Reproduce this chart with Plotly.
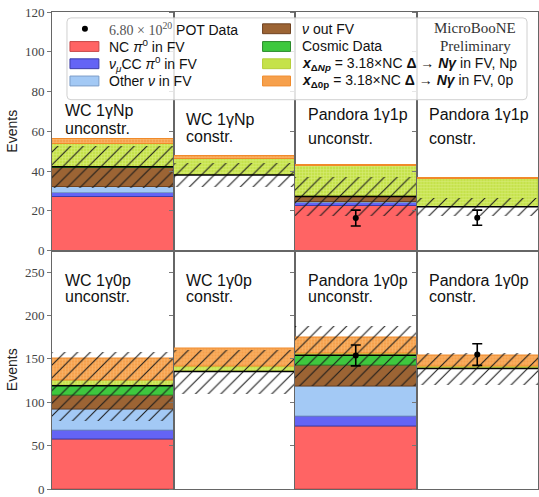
import numpy as np
import plotly.graph_objects as go
from plotly.subplots import make_subplots

# ---------------- data ----------------
panel_line1 = ["WC 1γNp", "WC 1γNp", "Pandora 1γ1p", "Pandora 1γ1p",
               "WC 1γ0p", "WC 1γ0p", "Pandora 1γ0p", "Pandora 1γ0p"]
panel_line2 = ["unconstr.", "constr.", "unconstr.", "constr.",
               "unconstr.", "constr.", "unconstr.", "constr."]

# background components (unconstrained panels only)
nc_pi0      = [27.0, 0, 22.5, 0, 57.5, 0, 72.0, 0]
numu_cc_pi0 = [1.8, 0, 1.5, 0, 10.5, 0, 11.3, 0]
other_nu    = [3.2, 0, 0.5, 0, 23.6, 0, 35.0, 0]
nu_out_fv   = [9.3, 0, 2.2, 0, 16.0, 0, 24.5, 0]
cosmic      = [0.9, 0, 0.5, 0, 11.4, 0, 11.3, 0]

# constrained background totals (constrained panels)
constr_bkg = [None, 38.0, None, 22.0, None, 135.6, None, 139.0]
# background uncertainty (half-width of hatched band)
bkg_err = [10.5, 6.0, 10.0, 4.5, 40.0, 25.0, 35.0, 18.0]

# signal: x_Delta = 3.18 x NC Delta -> N gamma
delta_np = [11.3, 8.0, 15.2, 14.2, 6.5, 5.4, 2.0, 2.5]
delta_0p = [2.8, 1.5, 0.6, 0.5, 24.8, 21.5, 19.0, 12.5]

# data (Pandora panels only)
data_val = [None, None, 16.3, 16.5, None, None, 154.0, 155.0]
data_err = [None, None, 4.0, 3.8, None, None, 12.0, 12.5]

row_ranges = [[0, 120], [0, 275]]
row_ticks = [[0, 20, 40, 60, 80, 100, 120], [0, 50, 100, 150, 200, 250]]

# ---------------- styling ----------------
W, H = 539, 497
ML, MR, MT, MB = 52, 0, 12, 1
PW, PH = W - ML - MR, H - MT - MB

def px_x(px):
    return (px - ML) / PW

def px_y(py):
    return (H - MB - py) / PH

bkg_styles = [
    ("NC π⁰ in FV", nc_pi0, "#ff6464", "#c84848"),
    ("νμCC π⁰ in FV", numu_cc_pi0, "#6464f5", "#3c3ca8"),
    ("Other ν in FV", other_nu, "#a3c9f5", "#7a9cc8"),
    ("ν out FV", nu_out_fv, "#9c6434", "#6e4220"),
    ("Cosmic Data", cosmic, "#3ec83e", "#2a8a2a"),
]
sig_styles = [
    ("ΔNp", delta_np, "#c5e24a", "#e9f6a2", "#b5cf3a"),
    ("Δ0p", delta_0p, "#f6a04c", "#fccb8e", "#f08a2a"),
]

fig = make_subplots(rows=2, cols=4, horizontal_spacing=0, vertical_spacing=0)

for i in range(8):
    r, c = i // 4 + 1, i % 4 + 1
    base = 0.0
    for name, arr, col, edge in bkg_styles:
        v = arr[i]
        if v > 0:
            fig.add_trace(go.Bar(x=[0.5], y=[v], base=[base], width=1.0,
                                 marker=dict(color=col, line=dict(color=edge, width=1)),
                                 showlegend=False, hoverinfo="skip"), row=r, col=c)
        base += v
    cval = constr_bkg[i] if constr_bkg[i] is not None else base
    sbase = cval
    for name, arr, col, fg, edge in sig_styles:
        v = arr[i]
        fig.add_trace(go.Bar(x=[0.5], y=[v], base=[sbase], width=1.0,
                             marker=dict(color=col, line=dict(color=edge, width=1),
                                         pattern=dict(shape="+", fgcolor=fg, size=3,
                                                      solidity=0.35, fillmode="overlay")),
                             showlegend=False, hoverinfo="skip"), row=r, col=c)
        sbase += v
    # hatched uncertainty band
    e = bkg_err[i]
    fig.add_trace(go.Bar(x=[0.5], y=[2 * e], base=[cval - e], width=1.0,
                         marker=dict(color="rgba(0,0,0,0)", line=dict(width=0),
                                     pattern=dict(shape="/", fgcolor="#1a1a1a", bgcolor="rgba(0,0,0,0)",
                                                  size=9, solidity=0.12, fillmode="replace")),
                         showlegend=False, hoverinfo="skip"), row=r, col=c)
    # central background line
    fig.add_trace(go.Scatter(x=[0, 1], y=[cval, cval], mode="lines",
                             line=dict(color="black", width=1.5),
                             showlegend=False, hoverinfo="skip"), row=r, col=c)
    if data_val[i] is not None:
        fig.add_trace(go.Scatter(x=[0.5], y=[data_val[i]], mode="markers",
                                 marker=dict(color="black", size=6),
                                 error_y=dict(type="data", array=[data_err[i]], color="black",
                                              thickness=1.6, width=5),
                                 showlegend=False, hoverinfo="skip"), row=r, col=c)

    fig.update_xaxes(range=[0, 1], showticklabels=False, ticks="", showgrid=False,
                     zeroline=False, showline=True, mirror=True, linecolor="#666", linewidth=1,
                     row=r, col=c)
    fig.update_yaxes(range=row_ranges[r - 1], tickvals=row_ticks[r - 1],
                     showticklabels=(c == 1), ticks="outside", ticklen=4, tickcolor="#777",
                     showgrid=False, zeroline=False, showline=True, mirror=True,
                     linecolor="#666", linewidth=1,
                     tickfont=dict(family="Liberation Serif", size=13, color="#444"),
                     row=r, col=c)

for rr in (1, 2):
    fig.update_yaxes(title_text="Events",
                     title_font=dict(family="Liberation Sans", size=14, color="#222"),
                     title_standoff=4, row=rr, col=1)

annotations = []
shapes = []
# panel labels (pixel centre y of each line)
label_y = [(112, 130), (121, 138), (116, 140), (116, 140),
           (284, 301), (284, 301), (284, 301), (284, 301)]
panel_left = [52 + k * PW / 4 for k in range(4)]
for i in range(8):
    xl = panel_left[i % 4] + 11
    for txt, yy in zip((panel_line1[i], panel_line2[i]), label_y[i]):
        annotations.append(dict(x=px_x(xl), y=px_y(yy), xref="paper", yref="paper",
                                text=txt, showarrow=False, xanchor="left", yanchor="middle",
                                font=dict(family="Liberation Sans", size=16, color="#111")))

# legend box with rounded corners
def rounded_rect(x0, y0, x1, y1, rad):
    X = lambda p: px_x(p)
    Y = lambda p: px_y(p)
    return (f"M {X(x0+rad)},{Y(y0)} L {X(x1-rad)},{Y(y0)} Q {X(x1)},{Y(y0)} {X(x1)},{Y(y0+rad)} "
            f"L {X(x1)},{Y(y1-rad)} Q {X(x1)},{Y(y1)} {X(x1-rad)},{Y(y1)} "
            f"L {X(x0+rad)},{Y(y1)} Q {X(x0)},{Y(y1)} {X(x0)},{Y(y1-rad)} "
            f"L {X(x0)},{Y(y0+rad)} Q {X(x0)},{Y(y0)} {X(x0+rad)},{Y(y0)} Z")

shapes.append(dict(type="path", xref="paper", yref="paper", layer="above",
                   path=rounded_rect(67, 18, 528, 101, 4),
                   fillcolor="rgba(255,255,255,0.82)", line=dict(color="#d0d0d0", width=1)))
row_y = [29, 47, 64.5, 82]
# data marker
shapes.append(dict(type="circle", xref="paper", yref="paper", layer="above",
                   x0=px_x(82), x1=px_x(88), y0=px_y(32), y1=px_y(26),
                   fillcolor="black", line=dict(color="black", width=0)))
col1_sw = [(bkg_styles[0][2], bkg_styles[0][3]), (bkg_styles[1][2], bkg_styles[1][3]),
           (bkg_styles[2][2], bkg_styles[2][3])]
for k, (fc, lc) in enumerate(col1_sw):
    yy = row_y[k + 1]
    shapes.append(dict(type="rect", xref="paper", yref="paper", layer="above",
                       x0=px_x(70), x1=px_x(99), y0=px_y(yy + 5), y1=px_y(yy - 5),
                       fillcolor=fc, line=dict(color=lc, width=1)))
col2_sw = [(bkg_styles[3][2], bkg_styles[3][3]), (bkg_styles[4][2], bkg_styles[4][3]),
           (sig_styles[0][2], sig_styles[0][4]), (sig_styles[1][2], sig_styles[1][4])]
for k, (fc, lc) in enumerate(col2_sw):
    yy = row_y[k]
    shapes.append(dict(type="rect", xref="paper", yref="paper", layer="above",
                       x0=px_x(263), x1=px_x(291), y0=px_y(yy + 5), y1=px_y(yy - 5),
                       fillcolor=fc, line=dict(color=lc, width=1)))

serif = "font-family:'Liberation Serif'"
col1_txt = [
    f"<span style=\"{serif};color:#555\">6.80 × 10<sup>20</sup></span> POT Data",
    "NC <i>π</i><sup>0</sup> in FV",
    "<i>ν<sub>μ</sub></i>CC <i>π</i><sup>0</sup> in FV",
    "Other <i>ν</i> in FV",
]
col2_txt = [
    "<i>ν</i> out FV",
    "Cosmic Data",
    "<b><i>x</i></b><sub><b>Δ<i>Np</i></b></sub> = 3.18×NC <b>Δ</b> → <b><i>Nγ</i></b> in FV, Np",
    "<b><i>x</i></b><sub><b>Δ0p</b></sub> = 3.18×NC <b>Δ</b> → <b><i>Nγ</i></b> in FV, 0p",
]
for k, t in enumerate(col1_txt):
    annotations.append(dict(x=px_x(107), y=px_y(row_y[k]), xref="paper", yref="paper",
                            text=t, showarrow=False, xanchor="left", yanchor="middle",
                            font=dict(family="Liberation Sans", size=14, color="#111")))
for k, t in enumerate(col2_txt):
    annotations.append(dict(x=px_x(301), y=px_y(row_y[k]), xref="paper", yref="paper",
                            text=t, showarrow=False, xanchor="left", yanchor="middle",
                            font=dict(family="Liberation Sans", size=14, color="#111")))
for t, yy in (("MicroBooNE", 28), ("Preliminary", 46)):
    annotations.append(dict(x=px_x(476), y=px_y(yy), xref="paper", yref="paper",
                            text=t, showarrow=False, xanchor="center", yanchor="middle",
                            font=dict(family="Liberation Serif", size=15, color="#333")))

fig.update_layout(width=W, height=H, margin=dict(l=ML, r=MR, t=MT, b=MB),
                  paper_bgcolor="white", plot_bgcolor="white",
                  barmode="overlay", bargap=0, showlegend=False,
                  annotations=annotations, shapes=shapes)

fig.write_html("out.html")
